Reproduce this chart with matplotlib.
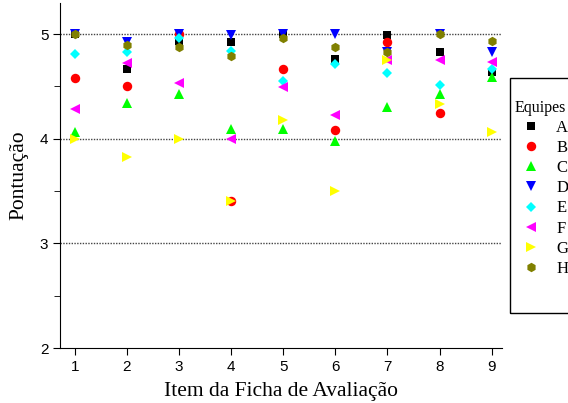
import matplotlib
matplotlib.use("Agg")
import matplotlib.pyplot as plt
from matplotlib.patches import Rectangle
from matplotlib.ticker import MultipleLocator

# - Dados:

itens = [1, 2, 3, 4, 5, 6, 7, 8, 9]
equipe_a = [5.00, 4.67, 4.93, 4.92, 5.00, 4.76, 4.99, 4.83, 4.64]
equipe_b = [4.58, 4.50, 5.00, 3.41, 4.67, 4.08, 4.92, 4.25, float("nan")]
equipe_c = [4.06, 4.34, 4.43, 4.09, 4.09, 3.98, 4.30, 4.43, 4.59]
equipe_d = [5.00, 4.92, 5.00, 4.99, 5.00, 5.00, 4.83, 5.00, 4.83]
equipe_e = [4.81, 4.83, 4.96, 4.84, 4.55, 4.71, 4.63, 4.51, 4.67]
equipe_f = [4.28, 4.72, 4.53, 4.00, 4.49, 4.23, 4.75, 4.75, 4.73]
equipe_g = [4.00, 3.83, 4.00, 3.41, 4.18, 3.50, 4.75, 4.33, 4.06]
equipe_h = [5.00, 4.90, 4.88, 4.79, 4.96, 4.88, 4.83, 5.00, 4.93]

series = [
    ("A", equipe_a, "s", "black"),
    ("B", equipe_b, "o", "red"),
    ("C", equipe_c, "^", "#00ff00"),
    ("D", equipe_d, "v", "blue"),
    ("E", equipe_e, "D", "cyan"),
    ("F", equipe_f, "<", "magenta"),
    ("G", equipe_g, ">", "yellow"),
    ("H", equipe_h, "h", "#808000"),
]

# - Figura:

fig = plt.figure(figsize=(5.68, 4.03), dpi=100)
ax = fig.add_axes([0.106, 0.136, 0.778, 0.8575])

handles = []
for nome, valores, marcador, cor in series:
    tam = 5.5 if marcador in ("s", "D") else 6.8
    h, = ax.plot(itens, valores, linestyle="none", marker=marcador, color=cor,
                 markersize=tam, markeredgewidth=0, label=nome)
    handles.append(h)

ax.set_xlim(0.72, 9.2)
ax.set_ylim(2, 5.3)
ax.set_xticks(itens)
ax.set_yticks([2, 3, 4, 5])
ax.yaxis.set_minor_locator(MultipleLocator(0.5))

for y in [3, 4, 5]:
    ax.axhline(y, color="#444444", linestyle=(0, (1, 1)), linewidth=1, zorder=0)

ax.spines["top"].set_visible(False)
ax.spines["right"].set_visible(False)
ax.tick_params(axis="both", which="major", direction="out", length=5,
               labelsize=11)
ax.tick_params(axis="y", which="minor", direction="out", length=4)
for lbl in ax.get_xticklabels() + ax.get_yticklabels():
    lbl.set_family("Liberation Sans")

ax.set_xlabel("Item da Ficha de Avaliação", family="Liberation Serif",
              fontsize=15.5, labelpad=6)
ax.set_ylabel("Pontuação", family="Liberation Serif", fontsize=15.5,
              labelpad=8)

# - Legenda:

fig.patches.append(Rectangle((510 / 568, 1 - 313 / 403), 0.2, 235 / 403,
                             transform=fig.transFigure, fill=False,
                             edgecolor="black", linewidth=1))
leg = fig.legend(handles=handles, loc="upper left",
                 bbox_to_anchor=(503 / 568, 1 - 88 / 403), frameon=False,
                 title="Equipes", alignment="left",
                 prop={"family": "Liberation Serif", "size": 12},
                 title_fontproperties={"family": "Liberation Serif", "size": 11.5},
                 handletextpad=0.5, labelspacing=0.25, borderpad=0.2,
                 handlelength=2.0)

fig.savefig("out.png", dpi=100)
